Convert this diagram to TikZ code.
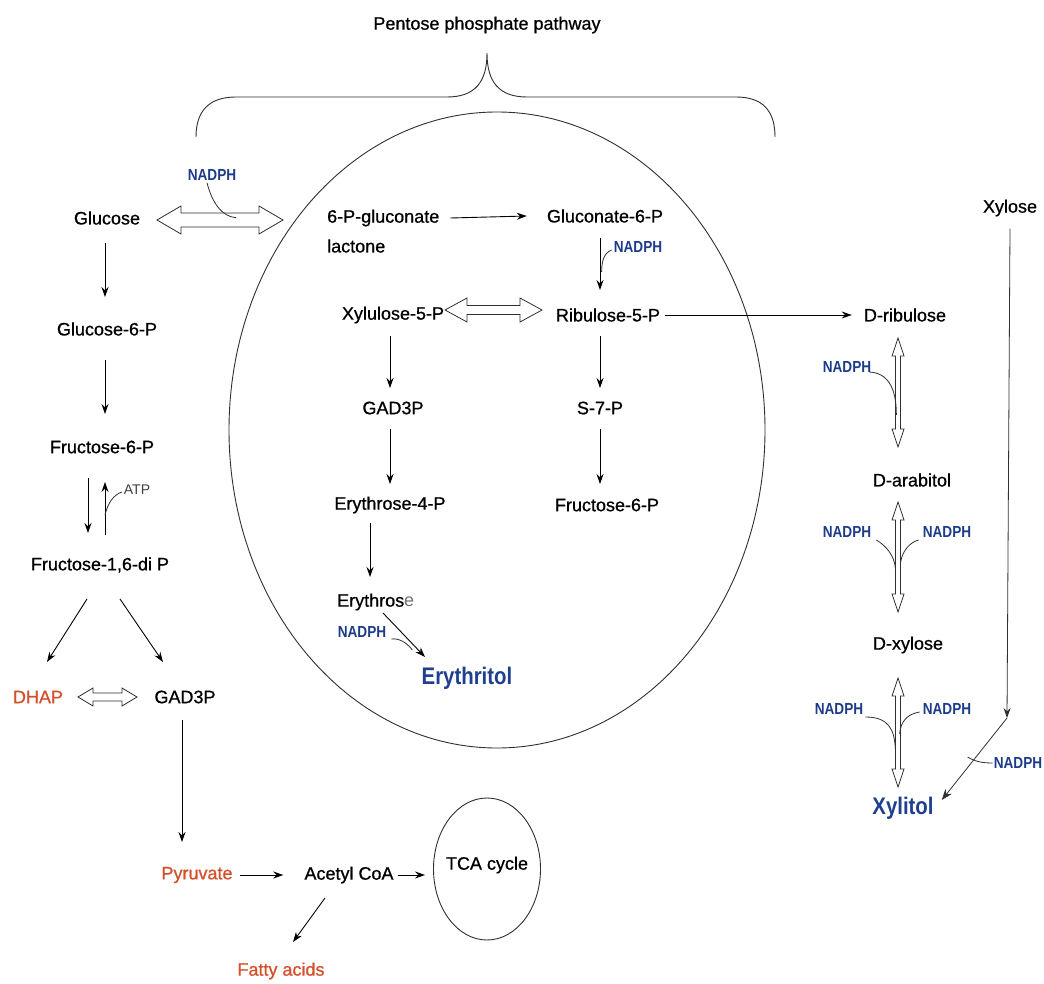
\documentclass[tikz,border=0pt]{standalone}
\usepackage{fontspec}
\setmainfont{Liberation Sans}
\newfontfamily\lblfont{Liberation Sans}[FakeBold=0.8]
\newfontfamily\condfont{Liberation Sans}[FakeStretch=0.85]
\usetikzlibrary{arrows.meta,calc,shapes.geometric}
\definecolor{redor}{HTML}{D4502B}
\definecolor{navy}{HTML}{1C3C8A}
\definecolor{navyb}{HTML}{1F3F8F}
\definecolor{linec}{HTML}{303030}
\newcommand{\hdbl}[5]{\draw[hollow] (#1) -- ($(#1)+(#3,#4)$) -- ($(#1)+(#3,#5)$) -- ($(#2)+(-#3,#5)$) -- ($(#2)+(-#3,#4)$) -- (#2) -- ($(#2)+(-#3,-#4)$) -- ($(#2)+(-#3,-#5)$) -- ($(#1)+(#3,-#5)$) -- ($(#1)+(#3,-#4)$) -- cycle;}
\newcommand{\vdbl}[5]{\draw[hollow] (#1) -- ($(#1)+(#4,#3)$) -- ($(#1)+(#5,#3)$) -- ($(#2)+(#5,-#3)$) -- ($(#2)+(#4,-#3)$) -- (#2) -- ($(#2)+(-#4,-#3)$) -- ($(#2)+(-#5,-#3)$) -- ($(#1)+(-#5,#3)$) -- ($(#1)+(-#4,#3)$) -- cycle;}
\tikzset{
  lbl/.style={font=\lblfont\fontsize{18}{28}\selectfont, inner sep=0pt},
  redlbl/.style={lbl, text=redor},
  nad/.style={font=\condfont\bfseries\fontsize{16}{18}\selectfont, text=navy, inner sep=0pt},
  prod/.style={font=\condfont\bfseries\fontsize{24}{26}\selectfont, text=navyb, inner sep=0pt},
  arr/.style={draw=black, line width=0.9pt, -{Stealth[length=10pt,width=7pt]}},
  thin/.style={draw=linec, line width=0.8pt},
  hollow/.style={draw=linec, line width=0.8pt, fill=white, line join=miter},
  ring/.style={draw=linec, line width=0.9pt},
}
\begin{document}
\begin{tikzpicture}[x=1pt, y=-1pt]
\useasboundingbox (0,0) rectangle (1044,984);
\fill[white] (0,0) rectangle (1044,984);

% title and brace
\node[lbl] (title) at (487,25) {Pentose phosphate pathway};
\coordinate (brL) at (196,137);
\coordinate (brT) at (487,53);
\coordinate (brR) at (775,137);
\draw[ring] (brL) .. controls (196,110) and (210,97) .. (236,97) -- (447,97)
  .. controls (475,97) and (487,82) .. (brT)
  .. controls (487,82) and (499,97) .. (527,97) -- (736,97)
  .. controls (762,97) and (775,110) .. (brR);

% big circle
\node[ring, ellipse, minimum width=536pt, minimum height=636pt, inner sep=0pt] (ppp) at (497,430) {};

% left column
\node[lbl] (glu) at (107,218) {Glucose};
\node[lbl] (g6p) at (107,329) {Glucose-6-P};
\node[lbl] (f6p) at (102,447) {Fructose-6-P};
\node[lbl] (f16) at (100,565) {Fructose-1,6-di P};
\node[redlbl] (dhap) at (38,697) {DHAP};
\node[lbl] (gad1) at (185,697) {GAD3P};
\node[redlbl] (pyr) at (197,875) {Pyruvate};
\node[lbl] (acoa) at (349,875) {Acetyl CoA};
\node[ring, ellipse, minimum width=107pt, minimum height=142pt, inner sep=0pt] (tca) at (487,869) {};
\node[lbl] (tcat) at (487,865) {TCA cycle};
\node[redlbl] (fatty) at (281,971) {Fatty acids};
\node[font=\fontsize{14}{16}\selectfont, text=black!75, inner sep=0pt] (atp) at (137,490) {ATP};

\draw[arr] ($(glu)+(-2,25)$) -- ($(g6p)+(-2,-32)$);
\draw[arr] ($(g6p)+(-2,31)$) -- ($(f6p)+(3,-33)$);
\draw[arr] ($(f6p)+(-14,31)$) -- ($(f16)+(-12,-32)$);
\draw[arr] ($(f16)+(5,-30)$) -- ($(f6p)+(3,35)$);
\draw[thin] ($(f16)+(5,-50)$) .. controls ($(f16)+(8,-63)$) and ($(f16)+(14,-70)$) .. ($(atp.west)+(-2,2)$);
\draw[arr] ($(f16)+(-13,34)$) -- ($(dhap)+(9,-35)$);
\draw[arr] ($(f16)+(20,34)$) -- ($(gad1)+(-22,-35)$);
\draw[arr] ($(gad1)+(-3,23)$) -- ($(pyr)+(-15,-33)$);
\draw[arr] ($(pyr.east)+(7,0)$) -- ($(acoa.west)+(-21,0)$);
\draw[arr] ($(acoa.east)+(4,0)$) -- ($(tca.west |- acoa.east)+(-8,0)$);
\draw[arr] ($(acoa)+(-24,23)$) -- ($(fatty)+(12,-29)$);
\coordinate (h1a) at (78,697);
\coordinate (h1b) at (137,697);
\hdbl{h1a}{h1b}{15}{9}{4}

% glucose <-> ppp
\coordinate (h2a) at (157,220);
\coordinate (h2b) at (283,220);
\hdbl{h2a}{h2b}{24}{14}{7}
\node[nad] (n1) at (212,175) {NADPH};
\draw[thin] ($(n1.south)+(-5,2)$) .. controls ($(n1.south)+(0,22)$) and ($(n1.south)+(10,36)$) .. ($(n1.south)+(24,37)$);

% inside circle
\node[lbl, anchor=west] (lac1) at (327,218) {6-P-gluconate};
\node[lbl, anchor=west] (lac2) at (327,246) {lactone};
\node[lbl] (gc6p) at (605,216) {Gluconate-6-P};
\node[nad] (n2) at (638,247) {NADPH};
\node[lbl] (rib) at (608,315) {Ribulose-5-P};
\node[lbl] (xyl) at (393,315) {Xylulose-5-P};
\node[lbl] (gad2) at (393,408) {GAD3P};
\node[lbl] (s7p) at (600,408) {S-7-P};
\node[lbl] (e4p) at (390,505) {Erythrose-4-P};
\node[lbl] (f6p2) at (607,505) {Fructose-6-P};
\node[lbl, anchor=west] (ery) at (337,602) {Erythros{\normalfont\fontsize{18}{28}\selectfont\color{black!55}e}};
\node[nad] (n3) at (362,632) {NADPH};
\node[prod] (eryt) at (467,678) {Erythritol};

% right side nodes
\node[lbl] (drib) at (905,315) {D-ribulose};
\node[lbl] (darab) at (912,480) {D-arabitol};
\node[lbl] (dxyl) at (908,645) {D-xylose};
\node[prod] (xylit) at (903,808) {Xylitol};
\node[lbl] (xylose) at (1010,208) {Xylose};
\node[nad] (n4) at (847,367) {NADPH};
\node[nad] (n5) at (847,532) {NADPH};
\node[nad] (n6) at (947,532) {NADPH};
\node[nad] (n7) at (839,709) {NADPH};
\node[nad] (n8) at (947,709) {NADPH};
\node[nad] (n9) at (1018,763) {NADPH};

\draw[arr] ($(lac1.east)+(11,0)$) -- ($(gc6p.west)+(-20,0)$);
\draw[arr] ($(gc6p)+(-5,22)$) -- ($(rib)+(-8,-25)$);
\draw[thin] ($(n2.west)+(-2,3)$) .. controls ($(n2.west)+(-10,6)$) and ($(n2.west)+(-12,15)$) .. ($(n2.west)+(-12,25)$);
\coordinate (h3a) at (445,310);
\coordinate (h3b) at (542,310);
\hdbl{h3a}{h3b}{22}{12}{4.5}
\draw[arr] ($(rib.east)+(5,0)$) -- ($(drib.west)+(-12,0)$);
\draw[arr] ($(xyl)+(-3,21)$) -- ($(gad2)+(-3,-20)$);
\draw[arr] ($(gad2)+(-3,21)$) -- ($(e4p)+(0,-21)$);
\draw[arr] ($(e4p)+(-20,18)$) -- ($(ery.west)+(33,-25)$);
\draw[arr] ($(rib)+(-8,21)$) -- ($(s7p)+(0,-20)$);
\draw[arr] ($(s7p)+(0,21)$) -- ($(f6p2)+(-7,-21)$);
\draw[arr] ($(ery.west)+(46,11)$) -- ($(eryt)+(-42,-21)$);
\draw[thin] ($(n3.east)+(5,7)$) .. controls ($(n3.east)+(12,6)$) and ($(n3.east)+(20,10)$) .. ($(n3.east)+(26,18)$);

\coordinate (h4a) at (898,338);
\coordinate (h4b) at (898,447);
\vdbl{h4a}{h4b}{18}{6}{2.5}
\coordinate (h5a) at (898,502);
\coordinate (h5b) at (898,612);
\vdbl{h5a}{h5b}{18}{6}{2.5}
\coordinate (h6a) at (898,678);
\coordinate (h6b) at (898,787);
\vdbl{h6a}{h6b}{18}{6}{2.5}

\draw[thin] ($(n4.east)+(-2,5)$) .. controls ($(n4.east)+(16,6)$) and ($(n4.east)+(25,20)$) .. ($(n4.east)+(25,48)$);
\draw[thin] ($(n5.east)+(5,8)$) .. controls ($(n5.east)+(15,14)$) and ($(n5.east)+(23,24)$) .. ($(n5.east)+(24,36)$);
\draw[thin] ($(n6.west)+(-4,8)$) .. controls ($(n6.west)+(-12,10)$) and ($(n6.west)+(-20,18)$) .. ($(n6.west)+(-22,30)$);
\draw[thin] ($(n7.east)+(2,8)$) .. controls ($(n7.east)+(25,8)$) and ($(n7.east)+(31,20)$) .. ($(n7.east)+(32,40)$);
\draw[thin] ($(n8.west)+(-3,3)$) .. controls ($(n8.west)+(-15,5)$) and ($(n8.west)+(-22,12)$) .. ($(n8.west)+(-23,25)$);

\coordinate (xc) at (1007,718);
\draw[thin, -{Stealth[length=10pt,width=7pt]}] ($(xylose.south)+(0,12)$) -- (xc);
\draw[thin, -{Stealth[length=11pt,width=8pt]}] (xc) -- ($(xylit.east)+(8,-8)$);
\draw[thin] ($(n9.west)+(-26,-6)$) .. controls ($(n9.west)+(-18,-1)$) and ($(n9.west)+(-10,0)$) .. ($(n9.west)+(-1,0)$);
\end{tikzpicture}
\end{document}
